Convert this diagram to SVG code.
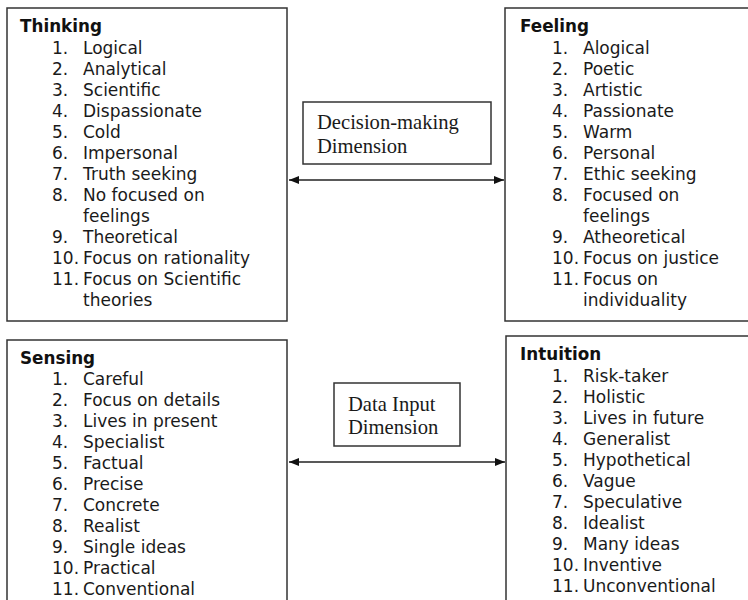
<svg xmlns="http://www.w3.org/2000/svg" width="748" height="600" viewBox="0 0 748 600">
  <style>
    .box { fill: #fff; stroke: #333; stroke-width: 1.5; }
    .title { font-family: "DejaVu Sans", Verdana, sans-serif; font-size: 16.8px; font-weight: bold; fill: #111; }
    .item { font-family: "DejaVu Sans", Verdana, sans-serif; font-size: 17px; fill: #1a1a1a; }
    .dim { font-family: "Liberation Serif", "Times New Roman", serif; font-size: 20.6px; fill: #1a1a1a; }
    .conn { stroke: #222; stroke-width: 1.5; fill: none; marker-start: url(#arrow); marker-end: url(#arrow); }
  </style>
  <defs>
    <marker id="arrow" viewBox="0 0 10 8" refX="10" refY="4" markerWidth="10" markerHeight="8" markerUnits="userSpaceOnUse" orient="auto-start-reverse">
      <path d="M0,0 L10,4 L0,8 z" fill="#111"/>
    </marker>
  </defs>

  <rect width="748" height="600" fill="#fff"/>

  <!-- Thinking -->
  <g id="thinking">
    <rect class="box" x="7" y="8" width="280" height="313"/>
    <text class="title" x="20" y="32">Thinking</text>
    <g class="item">
      <text x="52" y="54">1.</text><text x="83" y="54">Logical</text>
      <text x="52" y="75">2.</text><text x="83" y="75">Analytical</text>
      <text x="52" y="96">3.</text><text x="83" y="96">Scientific</text>
      <text x="52" y="117">4.</text><text x="83" y="117">Dispassionate</text>
      <text x="52" y="138">5.</text><text x="83" y="138">Cold</text>
      <text x="52" y="159">6.</text><text x="83" y="159">Impersonal</text>
      <text x="52" y="180">7.</text><text x="83" y="180">Truth seeking</text>
      <text x="52" y="201">8.</text><text x="83" y="201">No focused on</text>
      <text x="83" y="222">feelings</text>
      <text x="52" y="243">9.</text><text x="83" y="243">Theoretical</text>
      <text x="52" y="264">10.</text><text x="83" y="264">Focus on rationality</text>
      <text x="52" y="285">11.</text><text x="83" y="285">Focus on Scientific</text>
      <text x="83" y="306">theories</text>
    </g>
  </g>

  <!-- Feeling -->
  <g id="feeling">
    <rect class="box" x="505" y="8" width="250" height="313"/>
    <text class="title" x="520" y="32">Feeling</text>
    <g class="item">
      <text x="552" y="54">1.</text><text x="583" y="54">Alogical</text>
      <text x="552" y="75">2.</text><text x="583" y="75">Poetic</text>
      <text x="552" y="96">3.</text><text x="583" y="96">Artistic</text>
      <text x="552" y="117">4.</text><text x="583" y="117">Passionate</text>
      <text x="552" y="138">5.</text><text x="583" y="138">Warm</text>
      <text x="552" y="159">6.</text><text x="583" y="159">Personal</text>
      <text x="552" y="180">7.</text><text x="583" y="180">Ethic seeking</text>
      <text x="552" y="201">8.</text><text x="583" y="201">Focused on</text>
      <text x="583" y="222">feelings</text>
      <text x="552" y="243">9.</text><text x="583" y="243">Atheoretical</text>
      <text x="552" y="264">10.</text><text x="583" y="264">Focus on justice</text>
      <text x="552" y="285">11.</text><text x="583" y="285">Focus on</text>
      <text x="583" y="306">individuality</text>
    </g>
  </g>

  <!-- Decision-making label -->
  <g id="decision-dimension">
    <rect class="box" x="303" y="102" width="188" height="62"/>
    <text class="dim" x="317" y="129">Decision-making</text>
    <text class="dim" x="317" y="153">Dimension</text>
  </g>

  <!-- Sensing -->
  <g id="sensing">
    <rect class="box" x="7" y="340" width="280" height="270"/>
    <text class="title" x="20" y="364">Sensing</text>
    <g class="item">
      <text x="52" y="385">1.</text><text x="83" y="385">Careful</text>
      <text x="52" y="406">2.</text><text x="83" y="406">Focus on details</text>
      <text x="52" y="427">3.</text><text x="83" y="427">Lives in present</text>
      <text x="52" y="448">4.</text><text x="83" y="448">Specialist</text>
      <text x="52" y="469">5.</text><text x="83" y="469">Factual</text>
      <text x="52" y="490">6.</text><text x="83" y="490">Precise</text>
      <text x="52" y="511">7.</text><text x="83" y="511">Concrete</text>
      <text x="52" y="532">8.</text><text x="83" y="532">Realist</text>
      <text x="52" y="553">9.</text><text x="83" y="553">Single ideas</text>
      <text x="52" y="574">10.</text><text x="83" y="574">Practical</text>
      <text x="52" y="595">11.</text><text x="83" y="595">Conventional</text>
    </g>
  </g>

  <!-- Intuition -->
  <g id="intuition">
    <rect class="box" x="506" y="336" width="250" height="274"/>
    <text class="title" x="520" y="360">Intuition</text>
    <g class="item">
      <text x="552" y="382">1.</text><text x="583" y="382">Risk-taker</text>
      <text x="552" y="403">2.</text><text x="583" y="403">Holistic</text>
      <text x="552" y="424">3.</text><text x="583" y="424">Lives in future</text>
      <text x="552" y="445">4.</text><text x="583" y="445">Generalist</text>
      <text x="552" y="466">5.</text><text x="583" y="466">Hypothetical</text>
      <text x="552" y="487">6.</text><text x="583" y="487">Vague</text>
      <text x="552" y="508">7.</text><text x="583" y="508">Speculative</text>
      <text x="552" y="529">8.</text><text x="583" y="529">Idealist</text>
      <text x="552" y="550">9.</text><text x="583" y="550">Many ideas</text>
      <text x="552" y="571">10.</text><text x="583" y="571">Inventive</text>
      <text x="552" y="592">11.</text><text x="583" y="592">Unconventional</text>
    </g>
  </g>

  <!-- Data Input label -->
  <g id="data-input-dimension">
    <rect class="box" x="334" y="383" width="126" height="63"/>
    <text class="dim" x="348" y="411">Data Input</text>
    <text class="dim" x="348" y="434">Dimension</text>
  </g>

  <!-- Connectors -->
  <g id="connectors">
    <line class="conn" x1="289" y1="180" x2="504" y2="180"/>
    <line class="conn" x1="289" y1="462" x2="505" y2="462"/>
  </g>
</svg>
